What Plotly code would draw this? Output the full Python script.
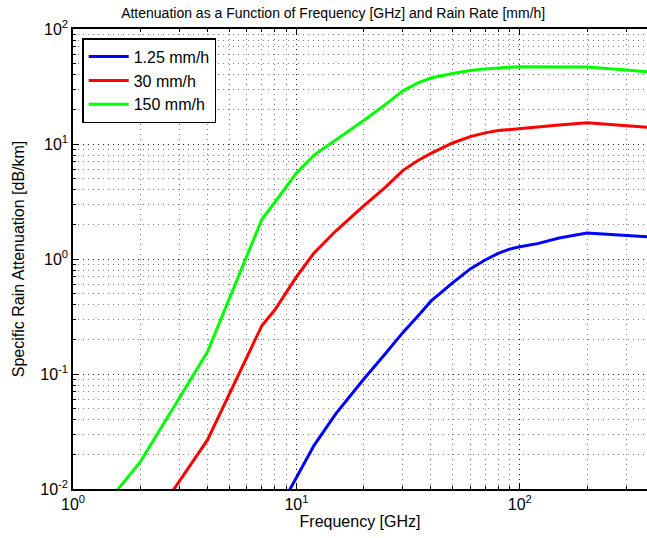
import plotly.graph_objects as go
import math

freq = [1, 2, 4, 7, 8, 10, 12, 15, 20, 25, 30, 35, 40, 50, 60, 70, 80, 90, 100, 120, 150, 200, 300, 400]
att_125 = [None, None, None, None, 0.0057, 0.0126, 0.024, 0.045, 0.09, 0.15, 0.23, 0.32, 0.43, 0.62, 0.82, 0.98, 1.12, 1.22, 1.28, 1.36, 1.52, 1.68, 1.60, 1.55]
att_30 = [0.0006, 0.0037, 0.0267, 0.263, 0.36, 0.70, 1.13, 1.75, 2.9, 4.2, 5.9, 7.2, 8.3, 10.2, 11.6, 12.5, 13.1, 13.4, 13.6, 14.0, 14.6, 15.3, 14.5, 13.8]
att_150 = [0.0033, 0.0172, 0.156, 2.2, 3.1, 5.6, 8.0, 10.8, 16.0, 22.0, 29.0, 34.0, 37.5, 41.0, 43.5, 45.0, 46.0, 46.5, 47.0, 47.0, 47.0, 46.8, 44.0, 42.0]

series_names = ["1.25 mm/h", "30 mm/h", "150 mm/h"]
series_colors = ["#0000ff", "#ff0000", "#00ff00"]

x_tickvals = [1, 10, 100]
x_ticktext = ["10<sup>0</sup>", "10<sup>1</sup>", "10<sup>2</sup>"]
y_tickvals = [0.01, 0.1, 1, 10, 100]
y_ticktext = ["10<sup>-2</sup>", "10<sup>-1</sup>", "10<sup>0</sup>", "10<sup>1</sup>", "10<sup>2</sup>"]

fig = go.Figure()
for name, col, ys in zip(series_names, series_colors, [att_125, att_30, att_150]):
    xs = [f for f, v in zip(freq, ys) if v is not None]
    vs = [v for v in ys if v is not None]
    fig.add_trace(go.Scatter(x=xs, y=vs, mode="lines", name=name,
                             line=dict(color=col, width=3)))

font_family = "Liberation Sans, Arial, sans-serif"
grid_common = dict(
    showgrid=True, gridcolor="rgba(0,0,0,0.8)", griddash="1px,4px", gridwidth=1,
    ticks="inside", ticklen=6, tickcolor="black",
    showline=True, linecolor="black", linewidth=1.5,
    zeroline=False,
    tickfont=dict(family=font_family, size=16, color="black"),
)
minor_common = dict(dtick="D1", ticks="inside", ticklen=3, tickcolor="black",
                    showgrid=True, gridcolor="rgba(0,0,0,0.5)", griddash="1px,4px", gridwidth=1)

fig.update_xaxes(
    type="log", range=[0, math.log10(371)],
    tickmode="array", tickvals=x_tickvals, ticktext=x_ticktext,
    mirror="ticks",
    minor=minor_common,
    title=dict(text="Frequency [GHz]", font=dict(family=font_family, size=16, color="black"), standoff=2),
    **grid_common,
)
fig.update_yaxes(
    type="log", range=[-2, 2],
    tickmode="array", tickvals=y_tickvals, ticktext=y_ticktext,
    minor=minor_common,
    title=dict(text="Specific Rain Attenuation [dB/km]", font=dict(family=font_family, size=16, color="black"), standoff=12),
    **grid_common,
)

fig.update_layout(
    width=647, height=538,
    margin=dict(l=73, r=0, t=29, b=49),
    paper_bgcolor="white", plot_bgcolor="white",
    title=dict(text="Attenuation as a Function of Frequency [GHz] and Rain Rate [mm/h]",
               font=dict(family=font_family, size=14, color="black"),
               x=0.515, xanchor="center", y=0.976, yanchor="middle"),
    legend=dict(x=0.016, y=0.98, xanchor="left", yanchor="top",
                bgcolor="white", bordercolor="black", borderwidth=1.5,
                font=dict(family=font_family, size=16, color="black"),
                tracegroupgap=0, itemwidth=40),
    showlegend=True,
)

fig.write_html("out.html")
